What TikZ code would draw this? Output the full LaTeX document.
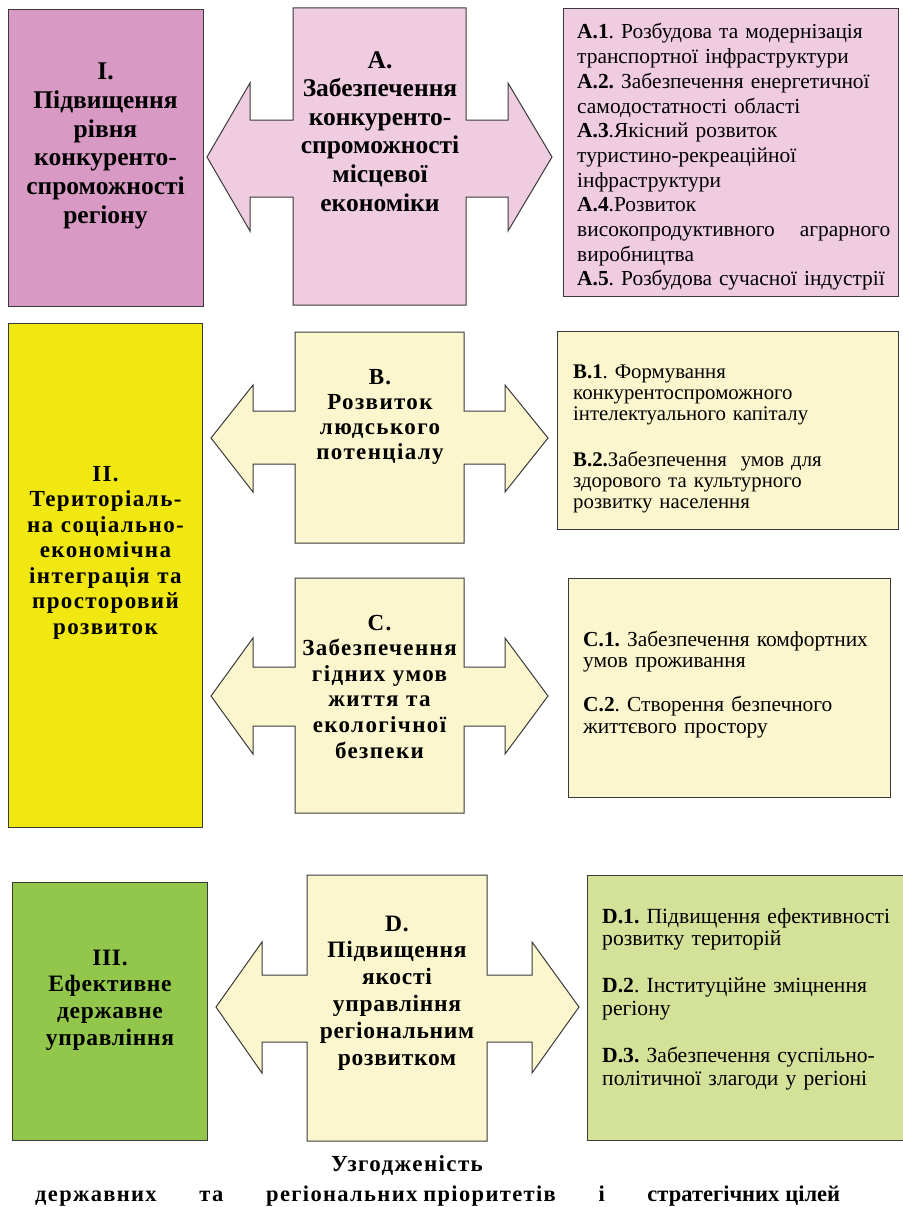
\documentclass[tikz,border=0pt]{standalone}
\usepackage{fontspec}
\setmainfont{Liberation Serif}
\newfontfamily\spacedfont[LetterSpace=6]{Liberation Serif}
\newfontfamily\semifont[LetterSpace=3]{Liberation Serif}
\newfontfamily\plainfont{Liberation Serif}
\definecolor{boxpink}{HTML}{D89AC4}
\definecolor{lightpink}{HTML}{F0CCE1}
\definecolor{boxyellow}{HTML}{F2E811}
\definecolor{cream}{HTML}{FBF6CD}
\definecolor{boxgreen}{HTML}{92C74B}
\definecolor{lightgreen}{HTML}{D3E199}
\definecolor{linecol}{HTML}{3A3A3A}
\frenchspacing
\begin{document}
\begin{tikzpicture}[x=1pt,y=-1pt,
  frame/.style={draw=linecol, line width=1.4pt, inner sep=0pt, anchor=north west},
  arrowshape/.style={draw=linecol, line width=1pt, line join=miter},
  mainlabel/.style={anchor=base, align=center, inner sep=0pt, text width=190pt},
  paneltext/.style={anchor=base west, align=left, inner sep=0pt}]
\useasboundingbox (0,0) rectangle (902,1207);
\fill[white] (0,0) rectangle (902,1207);

% ---------- row 1 ----------
\node[frame, fill=boxpink, minimum width=195pt, minimum height=297pt] (boxI) at (8,9) {};
\draw[arrowshape, fill=lightpink] (293,8) -- (466,8) -- (466,120) -- (508,120) -- (508,83) -- (552,157) -- (508,231) -- (508,197) -- (466,197) -- (466,305) -- (293,305) -- (293,197) -- (250,197) -- (250,231) -- (207,157) -- (250,83) -- (250,120) -- (293,120) -- cycle;
\node[frame, fill=lightpink, minimum width=335pt, minimum height=288pt] (panelA) at (563,8) {};

\node[mainlabel, font=\fontsize{25.5}{28.6}\selectfont\bfseries] (labelI) at (105.5,80)
  {І.\\Підвищення\\рівня\\конкуренто-\\спроможності\\регіону};
\node[mainlabel, font=\fontsize{25.5}{28.6}\selectfont\bfseries] (labelA) at (380,68)
  {А.\\Забезпечення\\конкуренто-\\спроможності\\місцевої\\економіки};
\node[paneltext, text width=313pt, font=\fontsize{21.4}{24.7}\selectfont] (textA) at (577,39)
  {\textbf{А.1}. Розбудова та модернізація\\
   транспортної інфраструктури\\
   \textbf{А.2.} Забезпечення енергетичної\\
   самодостатності області\\
   \textbf{А.3}.Якісний розвиток\\
   туристино-рекреаційної\\
   інфраструктури\\
   \textbf{А.4}.Розвиток\\
   високопродуктивного\hfill аграрного\\
   виробництва\\
   \textbf{А.5}. Розбудова сучасної індустрії};

% ---------- row 2 ----------
\node[frame, fill=boxyellow, minimum width=194pt, minimum height=504pt] (boxII) at (8,323) {};
\draw[arrowshape, fill=cream] (295,332) -- (464,332) -- (464,411) -- (505,411) -- (505,385) -- (548,438) -- (505,492) -- (505,464) -- (464,464) -- (464,543) -- (295,543) -- (295,464) -- (253,464) -- (253,492) -- (211,438) -- (253,385) -- (253,411) -- (295,411) -- cycle;
\draw[arrowshape, fill=cream] (295,578) -- (464,578) -- (464,667) -- (505,667) -- (505,638) -- (548,696) -- (505,754) -- (505,726) -- (464,726) -- (464,813) -- (295,813) -- (295,726) -- (253,726) -- (253,754) -- (211,696) -- (253,638) -- (253,667) -- (295,667) -- cycle;
\node[frame, fill=cream, minimum width=341pt, minimum height=198pt] (panelB) at (557,331) {};
\node[frame, fill=cream, minimum width=322pt, minimum height=219pt] (panelC) at (568,578) {};

\node[mainlabel, font=\fontsize{23}{25.5}\spacedfont\bfseries] (labelII) at (105.5,481)
  {ІІ.\\Територіаль-\\на соціально-\\економічна\hspace*{22pt}\\інтеграція та\\просторовий\\розвиток};
\node[mainlabel, font=\fontsize{23}{25.3}\spacedfont\bfseries] (labelB) at (380,384)
  {В.\\Розвиток\\людського\\потенціалу};
\node[mainlabel, font=\fontsize{23}{25.6}\spacedfont\bfseries] (labelC) at (379.5,630)
  {С.\\Забезпечення\\гідних умов\\життя та\\екологічної\\безпеки};
\node[paneltext, text width=320pt, font=\fontsize{20.8}{21.2}\selectfont] (textB) at (573,378)
  {\textbf{В.1}. Формування\\
   конкурентоспроможного\\
   інтелектуального капіталу\\[24.8pt]
   \textbf{В.2.}Забезпечення\ \ умов для\\
   здорового та культурного\\
   розвитку населення};
\node[paneltext, text width=305pt, font=\fontsize{21.4}{21.5}\selectfont] (textC) at (583,646)
  {\textbf{С.1.} Забезпечення комфортних\\
   умов проживання\\[22.5pt]
   \textbf{С.2}. Створення безпечного\\
   життєвого простору};

% ---------- row 3 ----------
\node[frame, fill=boxgreen, minimum width=195pt, minimum height=258pt] (boxIII) at (12,882) {};
\draw[arrowshape, fill=cream] (307,875) -- (487,875) -- (487,975) -- (532,975) -- (532,942) -- (579,1007) -- (532,1073) -- (532,1042) -- (487,1042) -- (487,1141) -- (307,1141) -- (307,1042) -- (262,1042) -- (262,1073) -- (216,1007) -- (262,942) -- (262,975) -- (307,975) -- cycle;
\node[frame, fill=lightgreen, minimum width=330pt, minimum height=265pt] (panelD) at (587,875) {};

\node[mainlabel, font=\fontsize{23.5}{26.7}\semifont\bfseries] (labelIII) at (110,965)
  {ІІІ.\\Ефективне\\державне\\управління};
\node[mainlabel, font=\fontsize{23.5}{26.8}\semifont\bfseries] (labelD) at (397,931)
  {D.\\Підвищення\\якості\\управління\\регіональним\\розвитком};
\node[paneltext, text width=300pt, font=\fontsize{21.6}{22.6}\selectfont] (textD) at (602,923)
  {\textbf{D.1.} Підвищення ефективності\\
   розвитку територій\\[24.5pt]
   \textbf{D.2}. Інституційне зміцнення\\
   регіону\\[24.5pt]
   \textbf{D.3.} Забезпечення суспільно-\\
   політичної злагоди у регіоні};

% ---------- caption ----------
\node[anchor=base, inner sep=0pt, font=\fontsize{23}{26}\spacedfont\bfseries] (capA) at (407,1171) {Узгодженість};
\node[anchor=base west, inner sep=0pt, font=\fontsize{22.5}{26}\spacedfont\bfseries] (capB) at (35,1201)
  {\makebox[805pt][l]{державних\hfill та\hfill регіональних\hspace{6pt}пріоритетів\hfill і\hfill {\plainfont\bfseries стратегічних\hspace{6pt}цілей}}};
\end{tikzpicture}
\end{document}
